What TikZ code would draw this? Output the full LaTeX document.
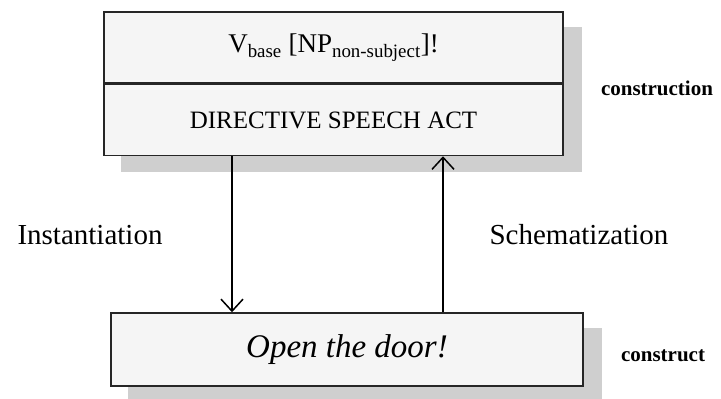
\documentclass[tikz,border=0pt]{standalone}
\usepackage{fontspec}
\setmainfont{Liberation Serif}
\usetikzlibrary{arrows.meta,positioning,backgrounds}

\begin{document}
\begin{tikzpicture}[x=1pt,y=-1pt,line width=1.5pt,
    >={Straight Barb[length=12pt,width=22pt]},
    box/.style={draw=black!85,fill=black!4,inner sep=0pt},
    shade/.style={fill=black!19},
    row/.style={box,minimum width=459pt,minimum height=71pt,
      font=\fontsize{25}{30}\selectfont},
    side/.style={font=\fontsize{29}{34}\selectfont},
    tag/.style={font=\bfseries\fontsize{21}{25}\selectfont}]

    \useasboundingbox (0,0) rectangle (721,399);

    \node[row,font=\fontsize{27}{32}\selectfont] (form) at (333.5,47.5)
      {V\textsubscript{base} [NP\textsubscript{non-subject}]!};
    \node[row] (act) [below=0pt of form] {DIRECTIVE SPEECH ACT};
    \node[box,minimum width=472pt,minimum height=73pt,
      font=\itshape\fontsize{33}{38}\selectfont] (door) at (347,349.5)
      {Open the door!};

    % shadows behind the boxes
    \begin{scope}[on background layer]
      \path[shade] ([shift={(18pt,-16pt)}]form.north west)
        rectangle ([shift={(18pt,-16pt)}]act.south east);
      \path[shade] ([shift={(18pt,-16pt)}]door.north west)
        rectangle ([shift={(18pt,-16pt)}]door.south east);
    \end{scope}

    \node[tag] (cxn) at (657,88) {construction};
    \node[tag] (cxt) at (663,356) {construct};
    \node[side] (inst) at (90,235) {Instantiation};
    \node[side] (schem) at (579,235) {Schematization};

    \draw[->] ([xshift=-101.5pt]act.south)
      -- ([xshift=-101.5pt]act.south |- door.north);
    \draw[->] ([xshift=109.5pt]act.south |- door.north)
      -- ([xshift=109.5pt]act.south);
\end{tikzpicture}
\end{document}
